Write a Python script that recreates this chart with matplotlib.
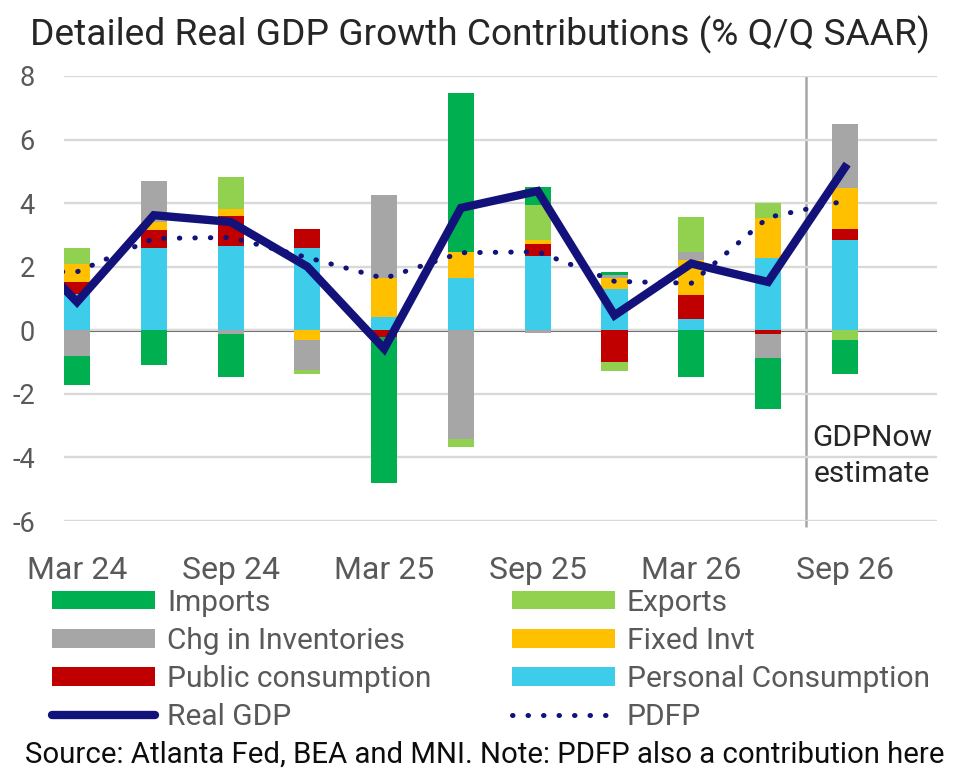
import numpy as np
import matplotlib
matplotlib.use('Agg')
import matplotlib.pyplot as plt
from matplotlib.patches import Patch
from matplotlib.lines import Line2D

plt.rcParams['font.family'] = ['Roboto', 'DejaVu Sans']
plt.rcParams['axes.unicode_minus'] = False

quarters = ['Mar 24', 'Jun 24', 'Sep 24', 'Dec 24', 'Mar 25', 'Jun 25',
            'Sep 25', 'Dec 25', 'Mar 26', 'Jun 26', 'Sep 26']

# contributions, pp (series order = stacking order from zero outwards)
personal = [1.15, 2.59, 2.65, 2.59, 0.42, 1.66, 2.34, 1.31, 0.37, 2.28, 2.83]
public = [0.37, 0.56, 0.94, 0.60, -0.20, 0.00, 0.39, -1.00, 0.73, -0.12, 0.37]
fixed_invt = [0.58, 0.26, 0.24, -0.31, 1.21, 0.81, 0.10, 0.32, 1.12, 1.24, 1.28]
inventories = [-0.81, 1.28, -0.12, -0.95, 2.62, -3.41, -0.10, 0.10, 0.24, -0.75, 2.00]
exports = [0.49, 0.00, 1.00, -0.10, 0.00, -0.26, 1.10, -0.28, 1.10, 0.49, -0.31]
imports = [-0.92, -1.10, -1.35, 0.00, -4.62, 5.01, 0.58, 0.11, -1.47, -1.60, -1.05]

real_gdp = [0.89, 3.62, 3.41, 2.00, -0.58, 3.85, 4.38, 0.47, 2.10, 1.52, 5.12]
pdfp = [1.84, 2.89, 2.92, 2.29, 1.63, 2.44, 2.47, 1.54, 1.48, 3.55, 4.07]
# previous quarter (Dec 23), only the part of the lines left of Mar 24 shows
gdp_prev = 3.4
pdfp_prev = 1.84

tick_labels = ['Mar 24', 'Sep 24', 'Mar 25', 'Sep 25', 'Mar 26', 'Sep 26']

colors = {
    'Imports': '#00b050',
    'Exports': '#92d050',
    'Chg in Inventories': '#a6a6a6',
    'Fixed Invt': '#ffc000',
    'Public consumption': '#c00000',
    'Personal Consumption': '#3dcdea',
}
navy = '#12127a'
dots = (0, (0.1, 3.0))

fig = plt.figure(figsize=(9.59, 7.79), dpi=100)
ax = fig.add_axes([64 / 959, 1 - 521 / 779, 873 / 959, 445 / 779])

x = np.arange(len(quarters))
stack = [('Personal Consumption', personal), ('Public consumption', public),
         ('Fixed Invt', fixed_invt), ('Chg in Inventories', inventories),
         ('Exports', exports), ('Imports', imports)]

pos_base = np.zeros(len(x))
neg_base = np.zeros(len(x))
for name, vals in stack:
    v = np.array(vals)
    pos = np.where(v > 0, v, 0)
    neg = np.where(v < 0, v, 0)
    ax.bar(x, pos, bottom=pos_base, width=0.34, color=colors[name], zorder=2)
    ax.bar(x, neg, bottom=neg_base, width=0.34, color=colors[name], zorder=2)
    pos_base += pos
    neg_base += neg

xl = np.concatenate([[-1], x])
ax.plot(xl, [pdfp_prev] + pdfp, color=navy, lw=3.6, ls=dots,
        dash_capstyle='round', zorder=3)
ax.plot(xl, [gdp_prev] + real_gdp, color=navy, lw=6, solid_joinstyle='miter', zorder=4)

ax.axhline(0, color='#595959', lw=2.2, zorder=1)
ax.vlines(9.5, -6.2, 8, color='#a6a6a6', lw=1.8, clip_on=False, zorder=1)

ax.set_xlim(-0.17, 11.2)
ax.set_ylim(-6, 8)
ax.set_yticks(range(-6, 9, 2))
ax.set_xticks(x[::2])
ax.set_xticklabels(tick_labels)
ax.tick_params(axis='both', length=0, labelcolor='#595959')
ax.tick_params(axis='y', pad=21, labelsize=19.5)
ax.tick_params(axis='x', pad=25, labelsize=23)
ax.grid(axis='y', color='#d9d9d9', lw=1.7, zorder=0)
for s in ax.spines.values():
    s.set_visible(False)

fig.text(872 / 959, 1 - 456 / 779, 'GDPNow\nestimate', ha='center', va='center',
         fontsize=21.5, color='#262626', linespacing=1.38)

fig.text(0.5, 1 - 35 / 779, 'Detailed Real GDP Growth Contributions (% Q/Q SAAR)',
         ha='center', va='center', fontsize=26.7, color='#262626')

def bar_handle(name):
    return Patch(facecolor=colors[name], edgecolor='none', label=name)

left_handles = [bar_handle('Imports'), bar_handle('Chg in Inventories'),
                bar_handle('Public consumption'),
                Line2D([], [], color=navy, lw=6, solid_capstyle='round', label='Real GDP')]
right_handles = [bar_handle('Exports'), bar_handle('Fixed Invt'),
                 bar_handle('Personal Consumption'),
                 Line2D([], [], color=navy, lw=3.6, ls=dots,
                        dash_capstyle='round', label='PDFP')]

leg_kw = dict(loc='center left', frameon=False, fontsize=21.5, borderpad=0,
              borderaxespad=0, handlelength=3.45, handleheight=0.57,
              handletextpad=0.4, labelspacing=0.34, labelcolor='#595959')
fig.legend(handles=left_handles, bbox_to_anchor=(52 / 959, 1 - 660 / 779), **leg_kw)
fig.legend(handles=right_handles, bbox_to_anchor=(512 / 959, 1 - 660 / 779), **leg_kw)

fig.text(485 / 959, 1 - 755 / 779,
         'Source: Atlanta Fed, BEA and MNI. Note: PDFP also a contribution here',
         ha='center', va='center', fontsize=21.2, color='#0d0d0d')

fig.savefig('out.png', dpi=100)
